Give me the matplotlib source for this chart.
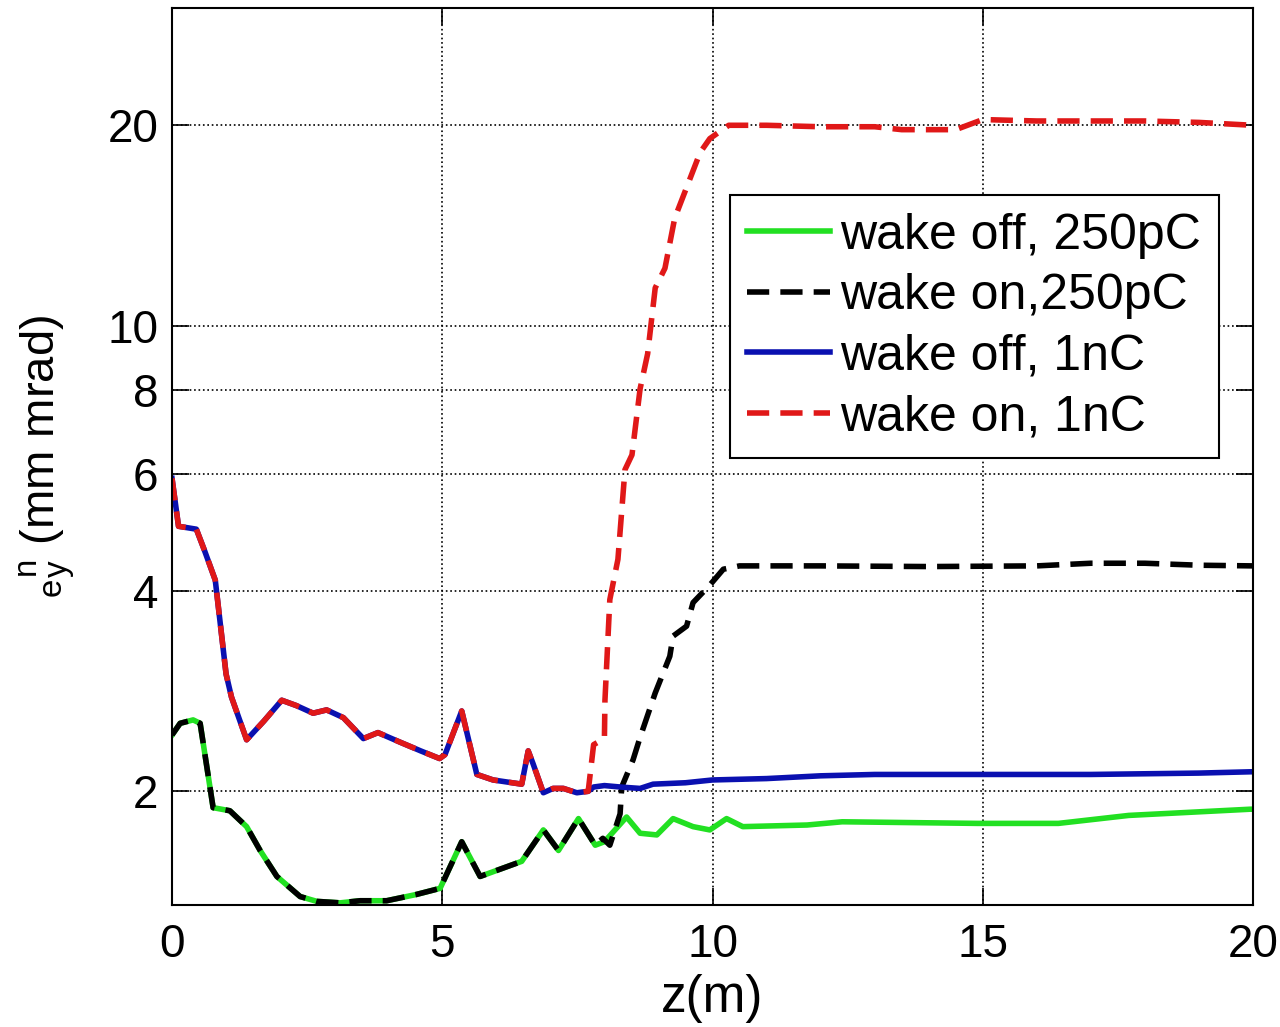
import matplotlib
matplotlib.use('Agg')
import matplotlib.pyplot as plt
from matplotlib.ticker import FixedLocator, NullLocator, FixedFormatter
import numpy as np

plt.rcParams['font.family'] = ['Liberation Sans', 'DejaVu Sans']
plt.rcParams['mathtext.fontset'] = 'custom'
plt.rcParams['mathtext.rm'] = 'Liberation Sans'
plt.rcParams['mathtext.it'] = 'Liberation Sans'

# tramo comun (wake on / off coinciden al principio)
z_250_early = [0, 0.15, 0.39, 0.52, 0.76, 1.07, 1.38, 1.63, 1.94, 2.37, 2.68,
               3.11, 3.48, 3.97, 4.52, 4.96, 5.36, 5.7, 6.47, 6.87, 7.15, 7.52, 7.83]
e_250_early = [2.43, 2.53, 2.56, 2.53, 1.89, 1.87, 1.77, 1.63, 1.49, 1.39, 1.367,
               1.36, 1.37, 1.37, 1.40, 1.43, 1.68, 1.49, 1.57, 1.75, 1.63, 1.82, 1.66]

z_1nC_early = [0, 0.12, 0.45, 0.6, 0.8, 1.0, 1.1, 1.38, 1.7, 2.03, 2.3, 2.61, 2.86,
               3.17, 3.54, 3.81, 4.22, 4.6, 4.95, 5.05, 5.36, 5.64, 5.94, 6.47, 6.59,
               6.68, 6.87, 7.05, 7.24, 7.49, 7.7]
e_1nC_early = [5.9, 5.0, 4.95, 4.6, 4.15, 3.0, 2.77, 2.39, 2.55, 2.74, 2.69, 2.62, 2.65,
               2.58, 2.40, 2.45, 2.37, 2.30, 2.24, 2.27, 2.64, 2.12, 2.08, 2.05, 2.30,
               2.20, 1.99, 2.02, 2.02, 1.99, 2.0]

# wake off, 250pC
z_off_250 = [8.0, 8.41, 8.66, 8.97, 9.27, 9.64, 9.95, 10.26, 10.56, 11.75, 12.4,
             14.9, 16.4, 17.7, 19.95, 20]
e_off_250 = [1.68, 1.83, 1.73, 1.72, 1.82, 1.77, 1.75, 1.82, 1.77, 1.78, 1.80,
             1.79, 1.79, 1.84, 1.88, 1.88]

# wake on, 250pC
z_on_250 = [7.97, 8.1, 8.29, 8.32, 8.53, 8.66, 8.94, 9.21, 9.27, 9.52, 9.64, 9.95,
            10.2, 10.5, 12, 14, 16, 17, 18, 19, 20]
e_on_250 = [1.70, 1.66, 1.85, 2.03, 2.23, 2.41, 2.81, 3.19, 3.42, 3.54, 3.84, 4.08,
            4.31, 4.36, 4.36, 4.35, 4.36, 4.40, 4.40, 4.37, 4.36]

# wake off, 1nC
z_off_1nC = [7.8, 8.0, 8.29, 8.66, 8.9, 9.5, 10, 11, 12, 13, 15, 17, 19, 20]
e_off_1nC = [2.03, 2.04, 2.03, 2.02, 2.05, 2.06, 2.08, 2.09, 2.11, 2.12, 2.12, 2.12, 2.13, 2.14]

# wake on, 1nC
z_on_1nC = [7.8, 8.0, 8.01, 8.1, 8.25, 8.38, 8.51, 8.66, 8.8, 8.94, 9.12, 9.3, 9.58,
            9.77, 9.95, 10.3, 11, 12, 13, 13.5, 14.5, 15, 16, 18, 19, 20]
e_on_1nC = [2.35, 2.4, 2.74, 3.88, 4.46, 6.08, 6.4, 8.04, 9.08, 11.4, 12.2, 14.5, 16.6,
            18.2, 19.1, 20.0, 20.0, 19.9, 19.9, 19.7, 19.7, 20.4, 20.3, 20.3, 20.2, 20.0]

etiquetas = ['wake off, 250pC', 'wake on,250pC', 'wake off, 1nC', 'wake on, 1nC']

fig = plt.figure(figsize=(12.8, 10.27), dpi=100)
ax = fig.add_axes([0.1344, 0.1188, 0.9789 - 0.1344, 0.9922 - 0.1188])

lw = 4
dash = (4, 2)
ax.plot(z_250_early + z_off_250, e_250_early + e_off_250, color='#22e022', lw=lw,
        label=etiquetas[0])
ax.plot(z_250_early + z_on_250, e_250_early + e_on_250, color='black', lw=lw,
        dashes=dash, label=etiquetas[1])
ax.plot(z_1nC_early + z_off_1nC, e_1nC_early + e_off_1nC, color='#0a10b0', lw=lw,
        label=etiquetas[2])
ax.plot(z_1nC_early + z_on_1nC, e_1nC_early + e_on_1nC, color='#e01818', lw=lw,
        dashes=dash, label=etiquetas[3])

ax.set_yscale('log')
ax.set_xlim(0, 20)
ax.set_ylim(1.35, 30)
ax.set_xticks([0, 5, 10, 15, 20])
ax.yaxis.set_major_locator(FixedLocator([2, 4, 6, 8, 10, 20]))
ax.yaxis.set_major_formatter(FixedFormatter(['2', '4', '6', '8', '10', '20']))
ax.yaxis.set_minor_locator(NullLocator())
ax.tick_params(direction='in', length=12, width=1.2, labelsize=33, top=True, right=True)
ax.tick_params(axis='x', pad=13)
ax.tick_params(axis='y', pad=10)
ax.grid(True, linestyle=':', color='black', linewidth=1.2)
for s in ax.spines.values():
    s.set_linewidth(1.5)

ax.set_xlabel('z(m)', fontsize=37, labelpad=5)
ax.set_ylabel(r'${}_{e}{}^{n}_{y}$ (mm mrad)', fontsize=34, labelpad=22)

leg = ax.legend(loc='upper left', bbox_to_anchor=(0.516, 0.7915), fontsize=36,
                frameon=True, fancybox=False, edgecolor='black', framealpha=1,
                handlelength=1.66, handletextpad=0.2, labelspacing=0.29,
                borderpad=0.35, borderaxespad=0)
leg.get_frame().set_linewidth(1.5)

plt.savefig('out.png', dpi=100)
